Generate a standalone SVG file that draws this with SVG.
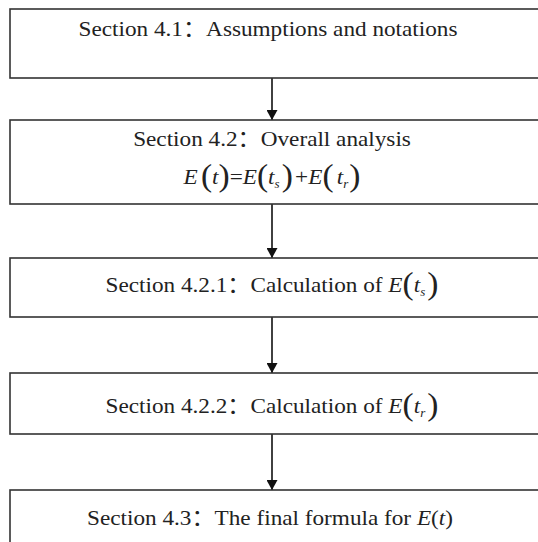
<svg xmlns="http://www.w3.org/2000/svg" width="538" height="542" viewBox="0 0 538 542">
<defs>
<marker id="ah" markerWidth="10" markerHeight="11" refX="10" refY="5.5" orient="auto" markerUnits="userSpaceOnUse" viewBox="0 0 10 11">
<path d="M0,0 L10,5.5 L0,11 Z" fill="#111"/>
</marker>
<style>
.box{fill:#fff;stroke:#333;stroke-width:1.6}
.t{font-family:"Liberation Serif","Noto Sans CJK SC",serif;font-size:21.5px;fill:#222;text-anchor:middle}
.i{font-style:italic}
.p{font-size:31px}
.sub{font-size:12px;font-style:italic}
.conn{stroke:#111;stroke-width:1.6;fill:none}
</style>
</defs>
<g id="connectors">
<line class="conn" x1="272" y1="78" x2="272" y2="120" marker-end="url(#ah)"/>
<line class="conn" x1="272" y1="204" x2="272" y2="258" marker-end="url(#ah)"/>
<line class="conn" x1="272" y1="317" x2="272" y2="373" marker-end="url(#ah)"/>
<line class="conn" x1="272" y1="434" x2="272" y2="490" marker-end="url(#ah)"/>
</g>
<g id="n1">
<rect class="box" x="10" y="9" width="540" height="69"/>
<g transform="translate(268,0) scale(1.08,1)"><text class="t" x="0" y="36">Section 4.1：Assumptions and notations</text></g>
</g>
<g id="n2">
<rect class="box" x="10" y="120" width="540" height="84"/>
<g transform="translate(272,0) scale(1.08,1)"><text class="t" x="0" y="146">Section 4.2：Overall analysis</text>
<text class="t" x="0" y="184"><tspan class="i">E</tspan><tspan class="p" dx="3" dy="2">(</tspan><tspan class="i" dy="-2">t</tspan><tspan class="p" dy="2">)</tspan><tspan dy="-2">=</tspan><tspan class="i">E</tspan><tspan class="p" dy="2">(</tspan><tspan class="i" dy="-2">t</tspan><tspan class="sub" dy="4">s</tspan><tspan class="p" dy="-2" dx="2">)</tspan><tspan dx="2" dy="-2">+</tspan><tspan class="i">E</tspan><tspan class="p" dy="2">(</tspan><tspan class="i" dx="3" dy="-2">t</tspan><tspan class="sub" dy="4">r</tspan><tspan class="p" dy="-2" dx="1">)</tspan></text></g>
</g>
<g id="n3">
<rect class="box" x="10" y="258" width="540" height="59"/>
<g transform="translate(272,0) scale(1.08,1)"><text class="t" x="0" y="292">Section 4.2.1：Calculation of <tspan class="i">E</tspan><tspan class="p" dy="2">(</tspan><tspan class="i" dy="-2">t</tspan><tspan class="sub" dy="4">s</tspan><tspan class="p" dy="-2" dx="2">)</tspan></text></g>
</g>
<g id="n4">
<rect class="box" x="10" y="373" width="540" height="61"/>
<g transform="translate(272,0) scale(1.08,1)"><text class="t" x="0" y="413">Section 4.2.2：Calculation of <tspan class="i">E</tspan><tspan class="p" dy="2">(</tspan><tspan class="i" dy="-2">t</tspan><tspan class="sub" dy="4">r</tspan><tspan class="p" dy="-2" dx="2">)</tspan></text></g>
</g>
<g id="n5">
<rect class="box" x="10" y="490" width="540" height="60"/>
<g transform="translate(270,0) scale(1.08,1)"><text class="t" x="0" y="525">Section 4.3：The final formula for <tspan class="i">E</tspan>(<tspan class="i">t</tspan>)</text></g>
</g>
</svg>
